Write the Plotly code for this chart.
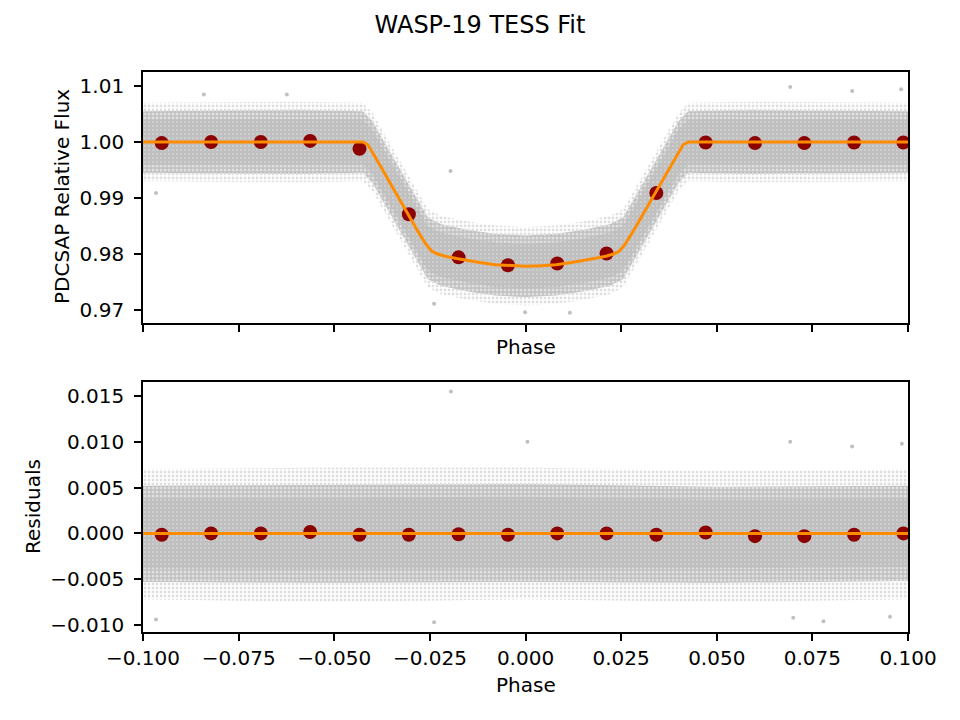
import plotly.graph_objects as go

# ---------------- data ----------------
# binned points (dark red)
bin_phase = [-0.0951, -0.0822, -0.0692, -0.0563, -0.0434, -0.0305, -0.0175, -0.0046,
             0.0083, 0.0212, 0.0342, 0.0471, 0.0600, 0.0729, 0.0859, 0.0988]
bin_flux = [0.9998, 1.0000, 1.0000, 1.0002, 0.9988, 0.9871, 0.9794, 0.9780,
            0.9783, 0.9801, 0.9909, 0.9999, 0.9998, 0.9998, 0.9999, 0.9999]
bin_resid = [-0.00015, 0.0, 0.0, 0.00015, -0.00015, -0.00015, -0.0001, -0.00015,
             0.0, 0.0, -0.00015, 0.0001, -0.0003, -0.0003, -0.00015, 0.0]

# transit model curve (orange)
model_phase = [-0.100, -0.0425, -0.0412, -0.040, -0.038, -0.036, -0.034, -0.032, -0.030,
               -0.028, -0.026, -0.0245, -0.023, -0.021, -0.018, -0.015, -0.012, -0.008,
               -0.004, 0.000, 0.004, 0.008, 0.012, 0.015, 0.018, 0.021, 0.023, 0.0245,
               0.026, 0.028, 0.030, 0.032, 0.034, 0.036, 0.038, 0.040, 0.0412, 0.0425, 0.100]
model_flux = [1.0000, 1.0000, 0.9995, 0.9982, 0.9958, 0.9934, 0.9910, 0.9887, 0.9863,
              0.9839, 0.9817, 0.9805, 0.9800, 0.9796, 0.9792, 0.9788, 0.9785, 0.9781,
              0.9779, 0.9778, 0.9779, 0.9781, 0.9785, 0.9788, 0.9792, 0.9796, 0.9800, 0.9805,
              0.9817, 0.9839, 0.9863, 0.9887, 0.9910, 0.9934, 0.9958, 0.9982, 0.9995, 1.0000, 1.0000]
resid_line_phase = [-0.100, 0.100]
resid_line_value = [0.0, 0.0]

# envelopes of the grey unbinned cloud (top panel): core, middle and sparse fringe
env_phase = [-0.100, -0.060, -0.0425, -0.040, -0.036, -0.032, -0.028, -0.0255, -0.022,
             -0.015, -0.008, 0.000, 0.008, 0.015, 0.022, 0.0255, 0.028, 0.032, 0.036,
             0.040, 0.0425, 0.060, 0.100]
core_hi = [1.0040, 1.0041, 1.0040, 1.0022, 0.9974, 0.9927, 0.9879, 0.9850, 0.9838,
           0.9828, 0.9821, 0.9818, 0.9821, 0.9828, 0.9838, 0.9850, 0.9879, 0.9927, 0.9974,
           1.0022, 1.0040, 1.0041, 1.0040]
core_lo = [0.9960, 0.9959, 0.9960, 0.9942, 0.9894, 0.9847, 0.9799, 0.9770, 0.9758,
           0.9748, 0.9741, 0.9738, 0.9741, 0.9748, 0.9758, 0.9770, 0.9799, 0.9847, 0.9894,
           0.9942, 0.9960, 0.9959, 0.9960]
mid_hi = [1.0055, 1.0057, 1.0055, 1.0037, 0.9989, 0.9942, 0.9894, 0.9865, 0.9853,
          0.9843, 0.9836, 0.9833, 0.9836, 0.9843, 0.9853, 0.9865, 0.9894, 0.9942, 0.9989,
          1.0037, 1.0055, 1.0057, 1.0055]
mid_lo = [0.9945, 0.9943, 0.9945, 0.9927, 0.9879, 0.9832, 0.9784, 0.9755, 0.9743,
          0.9733, 0.9726, 0.9723, 0.9726, 0.9733, 0.9743, 0.9755, 0.9784, 0.9832, 0.9879,
          0.9927, 0.9945, 0.9943, 0.9945]
sparse_hi = [1.0070, 1.0072, 1.0070, 1.0052, 1.0004, 0.9957, 0.9909, 0.9880, 0.9868,
             0.9858, 0.9851, 0.9848, 0.9851, 0.9858, 0.9868, 0.9880, 0.9909, 0.9957, 1.0004,
             1.0052, 1.0070, 1.0072, 1.0070]
sparse_lo = [0.9930, 0.9928, 0.9930, 0.9912, 0.9864, 0.9817, 0.9769, 0.9740, 0.9728,
             0.9718, 0.9711, 0.9708, 0.9711, 0.9718, 0.9728, 0.9740, 0.9769, 0.9817, 0.9864,
             0.9912, 0.9930, 0.9928, 0.9930]

# envelopes of the grey residual cloud (bottom panel)
renv_phase = [-0.100, -0.050, 0.000, 0.050, 0.100]
rcore_hi = [0.0038, 0.0039, 0.0040, 0.0037, 0.0038]
rcore_lo = [-0.0038, -0.0039, -0.0038, -0.0038, -0.0037]
rmid_hi = [0.0052, 0.0053, 0.0054, 0.0051, 0.0052]
rmid_lo = [-0.0053, -0.0054, -0.0053, -0.0054, -0.0052]
rsparse_hi = [0.0070, 0.0072, 0.0072, 0.0068, 0.0070]
rsparse_lo = [-0.0072, -0.0075, -0.0072, -0.0075, -0.0072]

# isolated grey points visible outside the cloud
out_phase_top = [0.0692, 0.0854, 0.0982, -0.0196, -0.0966, -0.0624, -0.0841, 0.0116, -0.0239, -0.0001]
out_flux_top = [1.0098, 1.0091, 1.0094, 0.9948, 0.9909, 1.0085, 1.0085, 0.9695, 0.9711, 0.9696]
out_phase_res = [-0.0195, 0.0005, 0.0692, 0.0984, 0.0854, -0.0239, -0.0966, 0.0779, 0.0700, 0.0953]
out_res = [0.0155, 0.0100, 0.0100, 0.0098, 0.0095, -0.0097, -0.0094, -0.0096, -0.0092, -0.0091]

x_ticks = [-0.100, -0.075, -0.050, -0.025, 0.000, 0.025, 0.050, 0.075, 0.100]
top_ticks = [0.97, 0.98, 0.99, 1.00, 1.01]
res_ticks = [-0.010, -0.005, 0.000, 0.005, 0.010, 0.015]

GREY = "#c0c0c0"
FONT = "DejaVu Sans"

fig = go.Figure()

STYLES = {
    "sparse": dict(fillcolor="rgba(255,255,255,0)",
                   fillpattern=dict(shape=".", fgcolor=GREY, bgcolor="rgba(255,255,255,0)",
                                    size=4, solidity=0.4)),
    "mid": dict(fillcolor=GREY,
                fillpattern=dict(shape=".", fgcolor="white", bgcolor=GREY, size=4, solidity=0.45)),
    "core": dict(fillcolor=GREY,
                 fillpattern=dict(shape=".", fgcolor="white", bgcolor=GREY, size=4, solidity=0.12)),
}


def band(xs, hi, lo, xa, ya, kind):
    px = list(xs) + list(xs)[::-1]
    py = list(hi) + list(lo)[::-1]
    fig.add_trace(go.Scatter(x=px, y=py, fill="toself", mode="lines", line=dict(width=0),
                             hoverinfo="skip", showlegend=False, xaxis=xa, yaxis=ya,
                             **STYLES[kind]))


band(env_phase, sparse_hi, sparse_lo, "x", "y", "sparse")
band(env_phase, mid_hi, mid_lo, "x", "y", "mid")
band(env_phase, core_hi, core_lo, "x", "y", "core")
band(renv_phase, rsparse_hi, rsparse_lo, "x2", "y2", "sparse")
band(renv_phase, rmid_hi, rmid_lo, "x2", "y2", "mid")
band(renv_phase, rcore_hi, rcore_lo, "x2", "y2", "core")

fig.add_trace(go.Scatter(x=out_phase_top, y=out_flux_top, mode="markers",
                         marker=dict(color=GREY, size=4), showlegend=False, xaxis="x", yaxis="y"))
fig.add_trace(go.Scatter(x=out_phase_res, y=out_res, mode="markers",
                         marker=dict(color=GREY, size=4), showlegend=False, xaxis="x2", yaxis="y2"))

fig.add_trace(go.Scatter(x=bin_phase, y=bin_flux, mode="markers",
                         marker=dict(color="#8b0000", size=14), showlegend=False, xaxis="x", yaxis="y"))
fig.add_trace(go.Scatter(x=bin_phase, y=bin_resid, mode="markers",
                         marker=dict(color="#8b0000", size=14), showlegend=False, xaxis="x2", yaxis="y2"))

fig.add_trace(go.Scatter(x=model_phase, y=model_flux, mode="lines",
                         line=dict(color="#ff8c00", width=3), showlegend=False, xaxis="x", yaxis="y"))
fig.add_trace(go.Scatter(x=resid_line_phase, y=resid_line_value, mode="lines",
                         line=dict(color="#ff8c00", width=3), showlegend=False, xaxis="x2", yaxis="y2"))

axis_common = dict(showline=True, mirror=True, linecolor="black", linewidth=1.7,
                   ticks="outside", ticklen=7, tickwidth=1.7, tickcolor="black",
                   showgrid=False, zeroline=False,
                   tickfont=dict(family=FONT, size=20, color="black"))

fig.update_layout(
    width=960, height=720,
    margin=dict(l=143, r=52, t=72, b=88),
    paper_bgcolor="white", plot_bgcolor="white",
    font=dict(family=FONT, size=20, color="black"),
    title=dict(text="WASP-19 TESS Fit", x=0.5, xanchor="center", y=1 - 25 / 720,
               yanchor="middle", font=dict(family=FONT, size=24, color="black")),
    xaxis=dict(domain=[0, 1], range=[-0.1, 0.1], tickvals=x_ticks, showticklabels=False,
               anchor="y", **axis_common),
    yaxis=dict(domain=[0.5518, 1.0], range=[0.96768, 1.0125], tickvals=top_ticks,
               tickformat=".2f", anchor="x", ticklabelstandoff=6, **axis_common),
    xaxis2=dict(domain=[0, 1], range=[-0.1, 0.1], tickvals=x_ticks, tickformat=".3f",
                anchor="y2", **axis_common),
    yaxis2=dict(domain=[0, 0.4464], range=[-0.01077, 0.01653], tickvals=res_ticks,
                tickformat=".3f", anchor="x2", ticklabelstandoff=6, **axis_common),
)

ann_font = dict(family=FONT, size=20, color="black")
fig.add_annotation(text="Phase", xref="paper", yref="paper", x=0.5, y=(632 - 347) / 560,
                   xanchor="center", yanchor="middle", showarrow=False, font=ann_font)
fig.add_annotation(text="Phase", xref="paper", yref="paper", x=0.5, y=(632 - 685) / 560,
                   xanchor="center", yanchor="middle", showarrow=False, font=ann_font)
fig.add_annotation(text="PDCSAP Relative Flux", xref="paper", yref="paper", x=0, xshift=-81,
                   y=(632 - 197) / 560, xanchor="center", yanchor="middle", textangle=-90,
                   showarrow=False, font=ann_font)
fig.add_annotation(text="Residuals", xref="paper", yref="paper", x=0, xshift=-110,
                   y=(632 - 507) / 560, xanchor="center", yanchor="middle", textangle=-90,
                   showarrow=False, font=ann_font)

fig.write_html("out.html", config={"displayModeBar": False},
               post_script="document.body.style.margin='0';")
